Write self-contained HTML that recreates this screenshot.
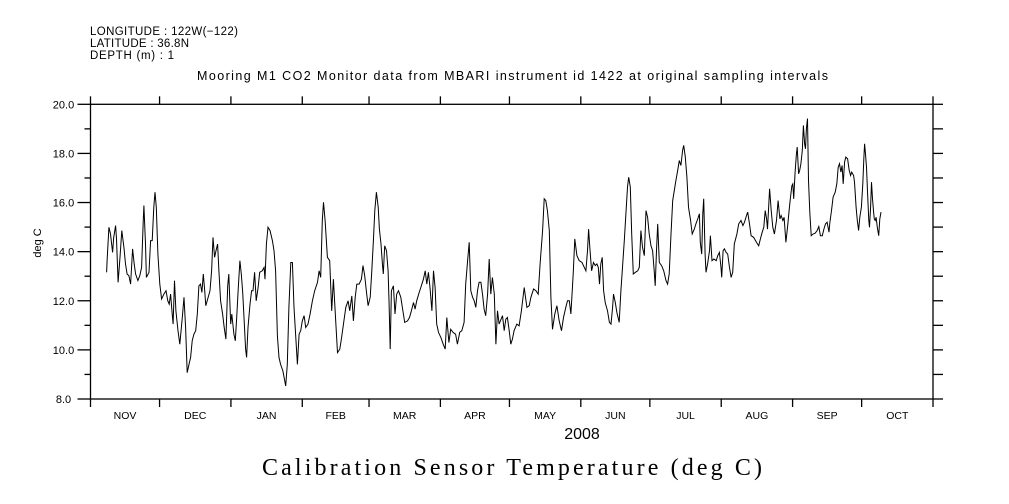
<!DOCTYPE html>
<html><head><meta charset="utf-8"><style>
html,body{margin:0;padding:0;background:#fff;}
svg{display:block;}
text{font-family:"Liberation Sans",sans-serif;fill:#000;}
</style></head><body>
<svg id="chart" width="1009" height="504" viewBox="0 0 1009 504">
<text x="90" y="35" font-size="11.5" textLength="148" lengthAdjust="spacing">LONGITUDE : 122W(−122)</text>
<text x="90" y="47" font-size="11.5" textLength="99" lengthAdjust="spacing">LATITUDE : 36.8N</text>
<text x="90" y="59" font-size="11.5" textLength="84" lengthAdjust="spacing">DEPTH (m) : 1</text>
<text x="197" y="80" font-size="12.5" textLength="631" lengthAdjust="spacing">Mooring M1 CO2 Monitor data from MBARI instrument id 1422 at original sampling intervals</text>
<text x="0" y="0" font-size="11" text-anchor="middle" transform="translate(41,243) rotate(-90)">deg C</text>
<text x="582" y="439" font-size="16" text-anchor="middle">2008</text>
<text x="262" y="475" font-size="24" textLength="500" lengthAdjust="spacing" style="font-family:'Liberation Serif',serif">Calibration Sensor Temperature (deg C)</text>
<g id="axes"></g>
<path id="series" fill="none" stroke="#000" stroke-width="1"/>
</svg>
<script>
const days=[7.0,7.2,8.0,8.7,9.6,10.1,10.9,11.3,12.0,12.8,13.6,14.5,15.2,15.9,16.7,17.4,18.3,19.0,19.6,20.6,21.4,22.2,22.9,23.2,23.9,24.3,25.4,26.1,26.8,27.5,28.0,28.6,29.3,30.1,30.9,31.9,32.8,33.6,34.2,34.8,35.5,35.9,36.5,37.1,38.0,38.8,39.9,40.6,41.3,42.0,42.8,43.5,44.2,44.9,45.7,46.4,47.1,47.8,48.4,49.0,49.6,50.1,50.7,51.9,52.6,53.2,53.9,54.5,55.2,55.8,56.5,57.4,58.1,58.8,59.6,60.1,60.9,61.4,62.3,62.9,63.5,64.2,64.9,65.5,66.1,66.7,67.4,67.8,68.4,69.3,70.0,70.6,71.3,72.0,72.8,73.5,74.6,75.4,75.8,76.4,77.1,78.0,79.0,79.7,80.4,81.2,81.9,82.6,83.6,84.8,85.5,86.2,87.0,87.7,88.4,89.1,89.9,90.6,91.3,
92.0,92.8,93.5,94.5,95.4,96.4,97.4,98.6,99.3,100.0,100.7,101.2,101.9,102.9,103.9,104.8,105.5,106.5,107.3,108.3,109.1,110.1,110.9,111.9,112.6,113.5,114.2,115.0,115.7,116.7,117.7,118.4,119.1,120.0,120.6,121.5,122.2,122.9,123.5,124.2,125.0,125.5,126.2,126.8,127.2,127.8,128.6,129.3,129.7,130.2,130.7,131.6,132.3,133.0,133.8,134.8,135.7,136.5,137.7,138.6,139.4,140.3,141.0,141.7,142.8,143.5,144.6,145.4,146.1,146.8,147.5,148.3,149.0,149.7,150.4,151.2,152.2,153.2,154.1,154.8,155.7,156.5,157.5,158.6,159.4,160.4,161.3,162.3,163.0,163.8,164.5,165.2,166.0,166.7,167.4,168.1,168.8,169.6,170.3,171.0,171.7,172.5,173.2,173.9,174.6,175.4,176.1,176.8,177.5,
179.0,179.7,180.4,181.1,181.9,182.6,183.3,184.0,185.2,186.2,187.2,188.4,189.6,190.6,191.3,192.5,193.5,194.5,195.3,196.4,197.1,197.8,198.5,199.3,200.0,200.7,201.7,202.6,203.6,204.6,205.5,206.5,207.2,208.0,208.7,209.7,210.4,211.3,212.3,213.5,214.5,215.2,215.9,216.4,216.9,217.7,218.5,219.3,220.0,220.6,221.1,221.7,222.3,222.9,223.6,224.6,225.4,226.1,226.8,227.2,228.0,228.7,229.7,230.4,231.1,231.9,232.6,233.3,233.8,234.5,235.1,235.8,236.7,237.7,238.4,239.1,239.8,240.6,241.3,242.0,242.7,243.5,244.2,244.9,245.3,245.9,246.4,247.1,248.1,249.0,250.0,250.7,251.4,252.2,252.9,253.6,254.3,255.1,255.8,256.5,257.2,257.7,258.4,259.1,259.8,260.7,261.4,262.3,263.0,263.8,264.5,264.9,
265.5,266.0,266.4,267.0,267.4,268.1,268.9,269.3,270.0,270.8,271.8,272.5,273.2,273.9,274.2,274.8,275.4,276.1,276.8,277.6,278.3,279.0,279.7,280.8,281.6,282.6,283.4,284.1,285.0,285.5,286.3,287.0,288.1,289.3,290.3,291.0,291.8,292.5,293.1,293.7,294.1,295.0,295.7,296.4,297.1,298.0,298.7,299.5,300.0,300.8,301.3,302.1,302.9,303.5,304.1,304.7,305.1,305.5,306.1,306.6,307.0,307.6,308.1,308.6,309.2,309.7,310.2,310.6,311.0,311.5,311.9,312.5,313.1,313.9,314.8,315.7,316.4,317.1,317.9,318.6,319.3,320.0,320.8,321.2,321.9,322.6,323.5,324.2,324.8,325.4,326.0,326.5,327.0,327.6,328.1,328.9,329.6,330.2,330.7,331.5,331.9,332.6,333.1,333.7,334.2,334.9,335.5,336.0,336.3,336.7,337.1,337.6,338.1,338.4,338.9,339.3,339.7,340.2,340.5,340.9,341.3,341.8,342.4,342.9,343.4];
const temps=[13.16,13.63,14.99,14.72,13.97,14.58,15.06,14.52,12.75,13.77,14.86,14.18,13.50,13.09,13.02,12.68,14.11,13.50,13.09,12.82,13.02,13.36,15.20,15.88,14.31,12.95,13.16,14.45,14.45,15.81,16.42,15.81,13.90,12.68,12.07,12.27,12.41,12.00,11.86,12.27,11.46,11.05,12.82,11.59,10.78,10.23,11.32,12.14,10.91,9.07,9.41,9.69,10.37,10.64,10.78,11.46,12.61,12.68,12.34,13.09,12.41,11.80,12.00,12.41,13.22,14.58,13.77,14.04,14.31,13.22,12.00,11.46,10.91,10.44,12.61,13.09,11.05,11.46,10.64,10.37,11.32,12.54,13.63,13.09,12.34,11.32,10.03,9.69,10.91,11.86,12.41,12.41,13.16,12.00,12.54,13.16,13.22,13.36,12.88,14.31,14.99,14.86,14.45,14.04,13.22,10.57,9.69,9.41,9.14,8.53,9.41,11.73,13.56,13.56,11.73,10.64,9.41,10.64,10.78,
11.18,11.39,10.91,11.05,11.46,12.00,12.41,12.75,13.22,12.95,15.27,16.01,15.27,13.77,13.63,11.59,12.88,11.18,9.89,10.03,10.50,11.18,11.73,12.00,11.59,12.20,11.18,12.14,12.68,12.68,12.88,13.43,13.02,12.27,11.80,12.14,13.22,14.45,15.67,16.42,15.81,14.92,14.31,13.50,13.09,14.24,14.04,13.22,11.86,10.03,12.41,12.61,11.46,12.27,12.41,12.14,11.59,11.12,11.18,11.32,11.59,11.93,11.66,12.00,12.34,12.54,12.88,13.22,12.68,13.16,12.54,11.59,13.22,12.54,11.05,10.71,10.50,10.23,10.03,11.32,10.30,10.84,10.71,10.64,10.23,10.71,10.78,11.12,12.68,13.63,14.38,12.41,12.14,12.00,11.73,12.41,12.75,12.75,12.27,11.66,11.39,12.27,13.70,12.27,12.95,12.27,10.23,11.59,11.05,
11.39,10.78,11.25,11.32,10.78,10.23,10.44,10.78,11.05,10.98,11.59,12.54,11.73,11.80,12.14,12.48,12.41,12.27,13.50,14.86,16.15,16.08,15.67,14.86,12.14,10.84,11.46,11.80,11.18,10.78,11.32,11.73,12.00,12.00,11.46,13.09,14.52,13.84,13.63,13.56,13.36,13.22,14.04,14.92,14.18,13.22,13.56,13.43,13.50,13.36,12.68,13.50,13.77,12.41,11.93,11.59,11.12,11.05,11.73,12.27,11.93,11.52,11.12,12.41,13.36,14.45,15.54,16.63,17.03,16.63,14.72,13.09,13.16,13.22,13.36,14.86,14.18,13.84,15.67,15.40,14.72,14.24,14.04,13.22,12.61,14.04,15.13,13.56,13.43,13.22,12.82,12.68,13.09,14.72,16.08,16.49,16.90,17.31,17.71,17.51,18.12,18.33,17.85,17.03,15.81,15.27,14.72,14.92,15.13,15.33,15.54,14.38,
13.90,15.54,16.15,13.90,13.16,13.50,14.04,14.65,13.63,13.70,13.63,13.84,13.97,13.36,12.95,14.04,14.11,13.97,13.90,13.36,12.95,13.16,14.31,14.72,15.13,15.27,15.06,15.20,15.47,15.61,15.13,14.65,14.58,14.38,14.24,14.52,14.79,14.99,15.67,15.33,14.92,16.56,15.67,14.99,14.72,15.27,16.08,15.33,15.47,15.27,15.40,14.38,15.06,15.67,16.22,16.69,16.76,16.15,17.24,17.92,18.26,17.17,17.31,17.58,18.12,19.14,18.39,18.19,19.01,19.42,16.90,15.61,14.65,14.72,14.75,14.86,15.02,14.65,14.65,14.92,15.13,15.20,14.79,15.20,15.67,16.22,16.42,16.76,17.44,17.58,17.24,17.51,16.76,17.65,17.85,17.78,17.31,17.10,17.24,17.10,16.83,15.81,15.27,14.86,15.40,15.81,16.76,17.85,18.39,17.92,17.44,16.35,15.27,14.99,15.81,16.83,16.15,15.61,15.33,15.27,15.40,14.99,14.65,15.33,15.61];
const monthLabels=["NOV","DEC","JAN","FEB","MAR","APR","MAY","JUN","JUL","AUG","SEP","OCT"];
const monthStarts=[0,30,61,92,121,152,182,213,243,274,305,335,366];
const yTicks=[8,10,12,14,16,18,20];
const yMinor=[9,11,13,15,17,19];

const X0=90.5,X1=933,Y0=399,Y1=104.3,DMAX=366,TMIN=8,TMAX=20;
const xs=d=>X0+(d/DMAX)*(X1-X0);
const ys=t=>Y0-(t-TMIN)/(TMAX-TMIN)*(Y0-Y1);
const NS="http://www.w3.org/2000/svg";
const axes=document.getElementById('axes');
function ln(x1,y1,x2,y2,name){
  const l=document.createElementNS(NS,'line');
  l.setAttribute('x1',x1);l.setAttribute('y1',y1);l.setAttribute('x2',x2);l.setAttribute('y2',y2);
  l.setAttribute('stroke','#000');l.setAttribute('stroke-width','1.3');
  
  
  axes.appendChild(l);
}
function tx(x,y,s,size,name){
  const t=document.createElementNS(NS,'text');
  t.setAttribute('x',x);t.setAttribute('y',y);t.setAttribute('font-size',size);
  t.setAttribute('text-anchor','middle');t.textContent=s;
  
  
  axes.appendChild(t);
}
const fr=document.createElementNS(NS,'rect');
fr.setAttribute('x',X0);fr.setAttribute('y',Y1);fr.setAttribute('width',X1-X0);fr.setAttribute('height',Y0-Y1);
fr.setAttribute('fill','none');fr.setAttribute('stroke','#000');fr.setAttribute('stroke-width','1.3');


axes.appendChild(fr);
yTicks.forEach(v=>{const y=ys(v);ln(X0-13,y,X0,y,'y-major-tick');ln(X1,y,X1+10,y,'y-right-tick');tx(X0-27,y+4,v.toFixed(1),11,'y-tick-label');});
yMinor.forEach(v=>{const y=ys(v);ln(X0-6,y,X0,y,'y-minor-tick');ln(X1,y,X1+10,y,'y-right-tick');});
monthStarts.forEach(d=>{const x=xs(d);ln(x,Y0,x,Y0+8,'x-month-tick');ln(x,Y1,x,Y1-8,'x-top-tick');});
monthLabels.forEach((m,i)=>{tx(xs((monthStarts[i]+monthStarts[i+1])/2),Y0+20,m,10.5,'x-month-label');});
let d='';
days.forEach((dd,i)=>{d+=(i?'L':'M')+xs(dd).toFixed(1)+' '+ys(temps[i]).toFixed(1);});
document.getElementById('series').setAttribute('d',d);
</script>
</body></html>
